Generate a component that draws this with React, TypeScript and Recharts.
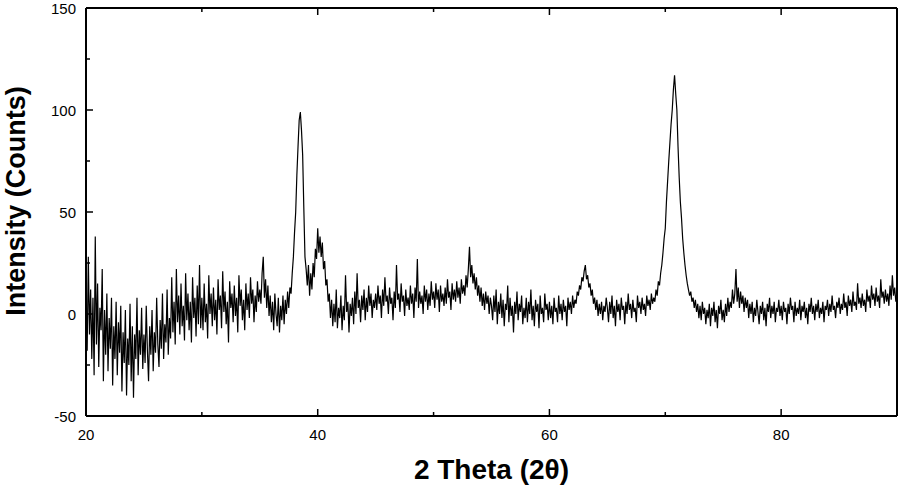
import { LineChart, Line, XAxis, YAxis, Label } from "recharts";

// 2θ scan, 0.1° step starting at 20°
const startAngle = 20;
const stepAngle = 0.1;

// intensity (counts) per 5° block
const seg20 = [5, -18, 28, -10, 12, -22, 8, -30, 38, -15, 15, -26, 3, -8, 22, -33, 2, -20, 10, -28, -2, -17, 8, -35, -6, -22, 6, -30, -4, -19, 4, -38, -9, -24, 2, -40, -12, -25, 5, -33, -6, -41, -10, -22, 8, -30, -8, -20, 3, -27];
const seg25 = [-10, -24, 4, -18, -33, -6, -20, 2, -28, -9, -19, 8, -15, -26, -3, -17, 10, -22, -5, -14, 12, -20, -2, -12, 18, -9, 6, -15, 22, -4, 9, -10, 15, -6, 4, -13, 20, -3, 10, -8, 6, -14, 18, -2, 8, -11, 14, -5, 24, -7];
const seg30 = [8, -8, 15, -4, 5, -12, 19, 0, 10, -6, 13, -3, 7, -10, 17, 2, 9, -7, 21, 1, 11, -5, 6, -14, 16, 3, 10, -4, 14, -1, 8, -9, 19, 4, 12, -3, 7, -8, 15, 2, 10, -2, 18, 5, 12, -4, 9, 1, 16, 6];
const seg35 = [12, 5, 20, 28, 8, 17, 3, 14, -1, 9, -4, 6, -8, 10, 0, -6, 8, -9, 4, -3, 9, -5, 7, 0, 11, 3, 13, 10, 20, 28, 40, 50, 68, 82, 95, 99, 90, 78, 52, 28, 22, 14, 24, 9, 20, 12, 25, 18, 32, 27];
const seg40 = [42, 30, 38, 28, 35, 22, 26, 14, 17, 6, 10, -2, 7, -6, 5, -4, 12, -7, 3, -2, 9, -8, 4, -3, 19, 1, 6, -9, 5, -1, 8, -5, 11, 0, 20, 3, 7, -4, 9, 2, 12, -3, 8, 1, 14, 4, 10, -2, 7, 3];
const seg45 = [10, 2, 14, 5, 9, -2, 12, 4, 18, 6, 9, 0, 13, 5, 8, -3, 11, 3, 24, 7, 10, 1, 15, 6, 9, -1, 12, 4, 8, 2, 14, 5, 10, -2, 13, 6, 27, 3, 11, 5, 9, 0, 14, 6, 12, 2, 10, 4, 16, 7];
const seg50 = [11, 3, 15, 7, 12, 1, 14, 6, 10, 4, 13, 5, 17, 8, 11, 2, 15, 7, 12, 6, 16, 8, 13, 5, 17, 10, 14, 9, 19, 13, 22, 33, 18, 24, 15, 20, 12, 18, 9, 14, 6, 13, 4, 10, 2, 11, 5, 9, 0, 8];
const seg55 = [4, -3, 9, 1, 12, -5, 6, 0, 10, -2, 7, -6, 5, 2, 14, -4, 8, -1, 4, -9, 6, 0, 11, -3, 5, 1, 9, -5, 3, -2, 8, -4, 6, 0, 12, -3, 4, -6, 7, 1, 5, -7, 9, 0, 3, -4, 10, 2, 5, -3];
const seg60 = [6, -2, 4, -5, 8, 1, 3, -4, 9, 0, 5, -3, 7, 1, 4, -6, 8, 2, 6, 0, 9, 3, 7, 5, 11, 9, 14, 12, 18, 16, 21, 24, 17, 19, 13, 15, 9, 12, 5, 8, 2, 7, -1, 5, 0, 6, -3, 4, 1, 8];
const seg65 = [3, -4, 6, 0, 9, -2, 4, -6, 7, 1, 5, -3, 8, 2, 4, -5, 6, 0, 10, 2, 5, -2, 7, 1, 3, -4, 9, 3, 6, 0, 8, 2, 5, -1, 9, 4, 7, 2, 10, 5, 8, 6, 12, 9, 16, 14, 20, 24, 30, 37];
const seg70 = [42, 55, 65, 75, 84, 93, 100, 110, 117, 108, 100, 82, 67, 55, 47, 37, 30, 24, 19, 15, 12, 9, 11, 6, 8, 3, 7, 1, 5, -2, 4, -3, 6, 0, 3, -5, 2, -2, 5, -6, 3, -1, 6, -4, 2, -7, 4, 0, 7, -3];
const seg75 = [2, -4, 5, -1, 8, 1, 6, 3, 12, 5, 10, 22, 6, 13, 3, 11, 5, 9, 1, 8, 3, 7, -2, 5, 0, 6, -4, 3, -1, 7, 1, -5, 4, 0, 6, -3, 3, -6, 5, 1, 8, -2, 4, 0, 6, -4, 3, 1, 7, -1];
const seg80 = [4, -3, 6, 1, 3, -5, 5, 0, 8, 2, 4, -4, 6, -1, 3, 0, 7, -3, 4, 1, 6, -2, 3, -5, 5, 1, 8, 0, 4, -3, 5, 1, 7, -2, 3, 0, 6, -4, 4, 2, 7, -1, 5, 1, 9, 2, 4, -2, 6, 3];
const seg85 = [8, 0, 5, 2, 10, 3, 6, -1, 9, 4, 7, 1, 11, 4, 6, 2, 15, 5, 8, 3, 10, 4, 7, 1, 12, 6, 9, 3, 14, 7, 10, 4, 13, 6, 9, 3, 17, 8, 11, 5, 12, 6, 10, 4, 14, 7, 19, 9, 13, 6, 11];

const intensity = [
  ...seg20, ...seg25, ...seg30, ...seg35, ...seg40, ...seg45, ...seg50,
  ...seg55, ...seg60, ...seg65, ...seg70, ...seg75, ...seg80, ...seg85,
];

const xTicks = [20, 30, 40, 50, 60, 70, 80, 90];
const xLabelled = [20, 40, 60, 80];
const yTicks = [-50, -25, 0, 25, 50, 75, 100, 125, 150];
const yLabelled = [-50, 0, 50, 100, 150];

const data = intensity.map((counts, i) => ({
  twoTheta: +(startAngle + i * stepAngle).toFixed(1),
  counts,
}));

const axisStroke = { stroke: "#000", strokeWidth: 2 };
const MAJOR = 7;
const MINOR = 4;

// inward tick marks, drawn by hand because recharts only draws outward ones
const bottomTick = ({ x, y, payload }: any) => {
  const major = xLabelled.includes(payload.value);
  return (
    <g>
      <line x1={x} x2={x} y1={y} y2={y - (major ? MAJOR : MINOR)} stroke="#000" strokeWidth={1.5} />
      {major && (
        <text x={x} y={y + 23.5} textAnchor="middle" fontSize={15} fill="#000">
          {payload.value}
        </text>
      )}
    </g>
  );
};

const topTick = ({ x, y, payload }: any) => {
  const major = xLabelled.includes(payload.value);
  return <line x1={x} x2={x} y1={y} y2={y + (major ? MAJOR : MINOR)} stroke="#000" strokeWidth={1.5} />;
};

const leftTick = ({ x, y, payload }: any) => {
  const major = yLabelled.includes(payload.value);
  return (
    <g>
      <line x1={x} x2={x + (major ? MAJOR : MINOR)} y1={y} y2={y} stroke="#000" strokeWidth={1.5} />
      {major && (
        <text x={x - 10} y={y + 5.5} textAnchor="end" fontSize={15} fill="#000">
          {payload.value}
        </text>
      )}
    </g>
  );
};

const rightTick = ({ x, y, payload }: any) => {
  const major = yLabelled.includes(payload.value);
  return <line x1={x} x2={x - (major ? MAJOR : MINOR)} y1={y} y2={y} stroke="#000" strokeWidth={1.5} />;
};

export default function App() {
  return (
    <div style={{ position: "absolute", left: 0, top: 0, width: 899, height: 486, background: "#fff" }}>
      <LineChart
        width={899}
        height={486}
        data={data}
        margin={{ top: 8, right: 2, bottom: 0, left: 0 }}
        style={{ fontFamily: "'Liberation Sans', Arial, sans-serif" }}
      >
        <XAxis
          xAxisId="x"
          type="number"
          dataKey="twoTheta"
          domain={[20, 90]}
          ticks={xTicks}
          interval={0}
          height={70}
          axisLine={axisStroke}
          tickLine={false}
          tickSize={0}
          tickMargin={0}
          tick={bottomTick}
        >
          <Label
            content={({ viewBox }: any) => (
              <text
                x={viewBox.x + viewBox.width / 2}
                y={viewBox.y + 63}
                textAnchor="middle"
                fontSize={28}
                fontWeight="bold"
                fill="#000"
              >
                2 Theta (2θ)
              </text>
            )}
          />
        </XAxis>
        <XAxis
          xAxisId="xTop"
          orientation="top"
          type="number"
          dataKey="twoTheta"
          domain={[20, 90]}
          ticks={xTicks}
          interval={0}
          mirror
          axisLine={axisStroke}
          tickLine={false}
          tickSize={0}
          tickMargin={0}
          tick={topTick}
        />

        <YAxis
          yAxisId="y"
          type="number"
          domain={[-50, 150]}
          ticks={yTicks}
          interval={0}
          width={86}
          axisLine={axisStroke}
          tickLine={false}
          tickSize={0}
          tickMargin={0}
          tick={leftTick}
        >
          <Label
            content={({ viewBox }: any) => {
              const cx = viewBox.x + 25;
              const cy = viewBox.y + viewBox.height / 2 - 11;
              return (
                <text
                  x={cx}
                  y={cy}
                  transform={`rotate(-90, ${cx}, ${cy})`}
                  textAnchor="middle"
                  fontSize={27}
                  fontWeight="bold"
                  fill="#000"
                >
                  Intensity (Counts)
                </text>
              );
            }}
          />
        </YAxis>
        <YAxis
          yAxisId="yRight"
          orientation="right"
          type="number"
          domain={[-50, 150]}
          ticks={yTicks}
          interval={0}
          mirror
          axisLine={axisStroke}
          tickLine={false}
          tickSize={0}
          tickMargin={0}
          tick={rightTick}
        />

        <Line
          xAxisId="x"
          yAxisId="y"
          type="linear"
          dataKey="counts"
          stroke="#000"
          strokeWidth={1.2}
          dot={false}
          isAnimationActive={false}
        />
      </LineChart>
    </div>
  );
}
